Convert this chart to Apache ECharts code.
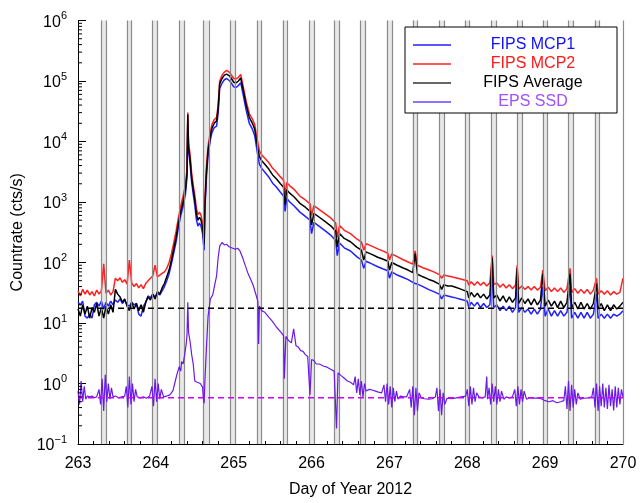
<!DOCTYPE html>
<html><head><meta charset="utf-8">
<script src="https://cdn.jsdelivr.net/npm/echarts@6/dist/echarts.min.js"></script>
<style>html,body{margin:0;padding:0;background:#fff}#c{width:641px;height:503px}</style>
</head><body><div id="c"></div>
<script>
// ---- data ----
const fipsDays = [
263.00,263.03,263.06,263.09,263.12,263.15,263.18,263.21,263.24,263.27,
263.30,263.33,263.36,263.39,263.42,263.45,263.48,263.51,263.54,263.57,
263.60,263.63,263.66,263.69,263.72,263.75,263.78,263.81,263.84,263.87,
263.90,263.93,263.96,263.99,264.02,264.05,264.08,264.11,264.14,264.17,
264.20,264.23,264.26,264.29,264.32,264.35,264.38,264.40,264.41,264.42,
264.44,264.46,264.48,264.50,264.52,264.54,264.56,264.58,264.60,264.62,
264.63,264.65,264.67,264.70,264.72,264.75,264.78,264.80,264.82,264.85,
264.88,264.91,264.93,264.95,264.98,265.00,265.03,265.06,265.09,265.11,
265.13,265.16,265.20,265.24,265.27,265.30,265.33,265.36,265.40,265.45,
265.50,265.55,265.60,265.64,265.66,265.68,265.72,265.78,265.85,265.92,
265.98,266.00,266.03,266.10,266.18,266.25,266.31,266.33,266.36,266.42,
266.50,266.58,266.64,266.67,266.70,266.78,266.85,266.92,266.98,267.00,
267.03,267.10,267.17,267.24,267.30,267.33,267.36,267.43,267.50,267.57,
267.64,267.67,267.70,267.75,267.80,267.85,267.90,267.95,268.00,268.02,
268.05,268.09,268.13,268.17,268.21,268.25,268.29,268.32,268.34,268.38,
268.42,268.46,268.50,268.54,268.58,268.62,268.64,268.66,268.70,268.74,
268.78,268.82,268.86,268.90,268.94,268.97,269.00,269.04,269.08,269.12,
269.16,269.20,269.24,269.28,269.32,269.34,269.38,269.42,269.46,269.50,
269.54,269.58,269.62,269.66,269.68,269.72,269.76,269.80,269.84,269.88,
269.92,269.96,270.00];

const fipsAvg = [
17,13,20,14,19,12,18,15,21,13,
18,12,19,14,20,15,36,30,27,22,
25,19,16,22,17,21,16,20,15,22,
27,24,30,25,33,30,38,45,58,75,
110,170,260,450,700,1000,1600,3000,28000,8000,
5000,2500,1600,1100,650,500,560,500,380,200,
900,3200,7000,12500,16500,20000,22000,35000,90000,110000,
125000,130000,140000,120000,105000,95000,93000,100000,112000,118000,
63000,40000,25000,20000,16000,9000,5600,4800,4200,3500,
2800,2400,2000,1750,900,1600,1400,1200,950,820,
700,420,650,560,470,400,330,180,300,250,
220,180,160,110,150,135,122,113,105,75,
100,90,82,75,68,140,64,58,53,49,
44,36,43,41,41,39,37,35,33,26,
32,27,31,26,30,25,29,120,26,29,
23,28,22,27,22,26,80,21,26,21,
25,20,25,20,24,65,19,24,19,23,
18,23,18,22,65,18,22,17,22,17,
21,17,21,45,17,21,16,20,16,20,
17,19,22];

const mcp2 = [
34,28,36,30,35,29,33,28,35,30,
34,95,31,35,29,33,55,50,56,47,
52,44,110,46,40,45,38,43,37,45,
50,55,60,90,58,62,66,70,80,100,
140,210,330,550,850,1250,1900,3500,30000,9500,
6000,3000,1900,1300,800,620,680,600,460,250,
1100,3800,8200,14500,19000,23000,25000,40000,100000,125000,
140000,150000,155000,138000,120000,110000,108000,115000,128000,135000,
72000,46000,29000,23500,19000,11000,7000,6000,5300,4500,
3600,3100,2600,2300,1300,2100,1850,1600,1250,1080,
930,600,870,750,630,540,450,260,410,340,
300,245,220,160,205,185,168,154,142,110,
138,125,112,102,94,155,90,82,76,70,
63,55,62,60,58,56,54,52,50,42,
48,42,48,42,47,41,46,130,43,46,
39,44,38,43,37,42,90,36,41,36,
40,35,40,35,39,75,34,39,33,38,
33,38,32,37,80,32,37,31,36,31,
36,30,35,55,30,34,30,34,29,33,
30,32,55];

const mcp1 = [
22,20,23,13,12,14,12,20,22,19,
23,17,22,19,23,20,24,22,25,21,
24,20,19,22,20,21,14,13,19,22,
28,26,30,27,31,29,34,40,50,65,
95,145,220,380,600,850,1350,2600,22000,7000,
4200,2100,1350,900,520,400,450,400,300,160,
750,2700,5800,10500,14000,17000,18000,29000,75000,92000,
105000,110000,118000,100000,88000,80000,78000,84000,94000,98000,
52000,33000,20000,16000,12500,7000,4200,3600,3100,2600,
2050,1750,1450,1250,700,1150,1000,850,680,580,
500,300,460,395,330,280,230,130,210,175,
155,125,110,80,105,94,85,78,73,55,
70,62,57,52,47,45,44,40,36,33,
30,25,29,28,27,26,25,24,23,18,
22,19,22,18,21,18,20,60,18,20,
16,19,16,19,15,18,45,15,18,15,
17,14,17,14,17,40,13,17,13,16,
13,16,13,15,40,12,15,12,15,12,
15,12,14,30,12,14,12,14,12,14,
13,14,16];

const epsSsd = [
[263.00,0.75],[263.02,0.45],[263.04,1.1],[263.06,0.5],[263.08,0.9],[263.10,0.55],[263.12,0.62],[263.15,0.6],[263.18,0.62],[263.21,0.58],
[263.24,0.6],[263.27,0.8],[263.29,0.45],[263.31,1.2],[263.33,0.35],[263.35,1.4],[263.37,0.5],[263.39,1.0],[263.41,0.55],[263.43,0.85],
[263.45,0.6],[263.48,0.62],[263.52,0.58],[263.56,0.6],[263.60,0.62],[263.62,0.9],[263.64,0.4],[263.66,1.3],[263.68,0.45],[263.70,1.0],
[263.72,0.5],[263.74,0.8],[263.76,0.6],[263.80,0.58],[263.84,0.6],[263.88,0.57],[263.92,0.62],[263.95,0.9],[263.97,0.42],[263.99,1.2],
[264.01,0.5],[264.03,1.0],[264.05,0.55],[264.07,0.8],[264.10,0.6],[264.14,0.62],[264.18,0.65],[264.22,0.76],[264.25,1.1],[264.27,1.4],
[264.30,1.9],[264.32,1.6],[264.33,2.3],[264.35,2.1],[264.37,3.0],[264.39,4.5],[264.40,6.3],[264.41,22],[264.42,7],[264.44,4.9],
[264.46,3.0],[264.48,2.1],[264.50,1.1],[264.53,1.05],[264.57,1.0],[264.60,0.87],[264.61,0.56],[264.62,0.47],[264.63,1.1],[264.65,4],
[264.66,7],[264.67,12.6],[264.70,25],[264.73,29],[264.76,45],[264.78,60],[264.80,120],[264.82,186],[264.85,214],[264.88,195],
[264.91,200],[264.94,182],[264.98,174],[265.02,166],[265.05,172],[265.08,155],[265.12,115],[265.15,88],[265.18,68],[265.22,52],
[265.25,42],[265.28,31],[265.31,23],[265.32,4.5],[265.33,19],[265.36,16],[265.40,15],[265.45,12.5],[265.50,10.5],[265.55,8.5],
[265.60,7.2],[265.64,6.2],[265.65,1.2],[265.67,6.0],[265.70,5.2],[265.72,5.6],[265.74,4.7],[265.77,8],[265.80,4.2],[265.83,4.0],
[265.86,3.5],[265.89,3.4],[265.92,3.0],[265.95,2.8],[265.98,0.65],[266.00,2.5],[266.03,2.4],[266.06,2.1],[266.10,2.1],[266.15,1.95],
[266.20,1.86],[266.25,1.7],[266.29,1.6],[266.32,0.18],[266.34,1.5],[266.38,1.35],[266.42,1.22],[266.46,1.1],[266.50,1.05],[266.54,0.95],
[266.56,1.3],[266.58,0.7],[266.60,1.2],[266.62,0.65],[266.64,1.1],[266.66,0.6],[266.68,1.0],[266.70,0.75],[266.74,0.8],[266.78,0.78],
[266.82,0.75],[266.86,0.72],[266.90,0.7],[266.93,0.95],[266.95,0.5],[266.97,1.0],[266.99,0.45],[267.01,0.9],[267.03,0.4],[267.05,0.85],
[267.07,0.5],[267.09,0.75],[267.11,0.55],[267.14,0.62],[267.18,0.6],[267.22,0.6],[267.26,0.8],[267.28,0.4],[267.30,0.9],[267.32,0.3],
[267.34,0.85],[267.36,0.35],[267.38,0.7],[267.41,0.58],[267.45,0.56],[267.50,0.55],[267.55,0.56],[267.59,0.6],[267.61,0.85],[267.63,0.35],
[267.65,0.8],[267.67,0.3],[267.69,0.7],[267.71,0.45],[267.74,0.57],[267.80,0.56],[267.86,0.58],[267.92,0.6],[267.98,0.62],[268.00,0.8],
[268.02,0.42],[268.04,0.9],[268.06,0.45],[268.08,0.85],[268.10,0.5],[268.12,0.7],[268.15,0.6],[268.19,0.58],[268.23,0.6],[268.25,1.3],
[268.26,0.55],[268.28,0.85],[268.30,0.45],[268.32,1.0],[268.34,0.5],[268.36,0.9],[268.38,0.45],[268.40,0.8],[268.42,0.5],[268.44,0.75],
[268.47,0.55],[268.50,0.6],[268.54,0.58],[268.58,0.6],[268.61,0.8],[268.63,0.42],[268.65,0.9],[268.67,0.45],[268.69,0.8],[268.71,0.5],
[268.73,0.75],[268.76,0.55],[268.80,0.58],[268.85,0.57],[268.90,0.58],[268.95,0.56],[269.00,0.52],[269.05,0.5],[269.10,0.52],[269.15,0.48],
[269.20,0.5],[269.24,0.52],[269.26,0.9],[269.28,0.38],[269.30,1.1],[269.32,0.35],[269.34,0.95],[269.36,0.4],[269.38,0.8],[269.40,0.45],
[269.42,0.7],[269.45,0.55],[269.50,0.57],[269.55,0.58],[269.60,0.6],[269.62,0.85],[269.64,0.4],[269.66,1.0],[269.68,0.35],[269.70,0.9],
[269.72,0.42],[269.74,1.0],[269.76,0.4],[269.78,0.85],[269.80,0.38],[269.82,0.95],[269.84,0.42],[269.86,0.8],[269.88,0.36],[269.90,0.9],
[269.92,0.4],[269.94,0.85],[269.96,0.45],[269.98,0.8],[270.00,0.6]];

const fipsBackground = 17.5;
const epsBackground = 0.58;
const bandCenters = [263.33,263.66,263.99,264.33,264.645,264.99,265.33,265.66,266.0,266.325,
                     266.66,267.0,267.33,267.67,268.0,268.34,268.67,269.0,269.33,269.67];
const bandHalfWidth = 0.033;
const seriesNames = ['FIPS MCP1','FIPS MCP2','FIPS Average','EPS SSD'];
const xRange = [263, 270];
const yRange = [0.1, 1e6];

// ---- chart ----
const FONT = '"Liberation Sans", Arial, Helvetica, sans-serif';
const zip = vals => fipsDays.map((d, i) => [d, vals[i]]);
const minorLogTicks = [];
for (let e = -1; e < 6; e++) for (let m = 2; m <= 9; m++) minorLogTicks.push([xRange[0], m * Math.pow(10, e)]);

function logLabel(v) {
  const e = Math.round(Math.log10(v));
  return '{b|10}{s|' + (e < 0 ? '\u2212' + (-e) : e) + '}';
}

const chart = echarts.init(document.getElementById('c'), null, {renderer: 'canvas'});
const lineBase = {type: 'line', showSymbol: false, symbol: 'none', animation: false, silent: true};

chart.setOption({
  animation: false,
  textStyle: {fontFamily: FONT},
  grid: {left: 78, right: 18, top: 20.5, bottom: 52, containLabel: false},
  legend: {
    z: 50, zlevel: 0,
    orient: 'vertical', left: 405, top: 27,
    padding: [10, 7, 3, 8], itemGap: 3, itemWidth: 38, itemHeight: 1.5, icon: 'rect',
    backgroundColor: '#fff', borderColor: '#000', borderWidth: 1,
    selectedMode: false,
    formatter: name => '{t|' + name + '}',
    textStyle: {fontFamily: FONT, fontSize: 16,
      rich: {t: {width: 154, align: 'center', fontSize: 16, fontFamily: FONT, lineHeight: 16}}},
    data: [
      {name: seriesNames[0], textStyle: {color: '#1010ff'}},
      {name: seriesNames[1], textStyle: {color: '#ff1a1a'}},
      {name: seriesNames[2], textStyle: {color: '#000'}},
      {name: seriesNames[3], textStyle: {color: '#a050ff'}}
    ]
  },
  xAxis: {
    type: 'value', min: xRange[0], max: xRange[1], interval: 1,
    name: 'Day of Year 2012', nameLocation: 'middle', nameGap: 38,
    nameTextStyle: {fontSize: 16, color: '#000', fontFamily: FONT},
    axisLine: {lineStyle: {color: '#000', width: 1}},
    axisTick: {inside: true, length: 6, lineStyle: {color: '#000'}},
    minorTick: {show: true, splitNumber: 5, length: 3, lineStyle: {color: '#000'}},
    axisLabel: {fontSize: 16, color: '#000', margin: 12, fontFamily: FONT},
    splitLine: {show: false}
  },
  yAxis: {
    type: 'log', logBase: 10, min: yRange[0], max: yRange[1],
    name: 'Countrate (cts/s)', nameLocation: 'middle', nameGap: 34,
    nameTextStyle: {fontSize: 16, color: '#000', fontFamily: FONT},
    axisLine: {show: true, lineStyle: {color: '#000', width: 1}},
    axisTick: {inside: true, length: 8, lineStyle: {color: '#000'}},
    minorTick: {show: false},
    splitLine: {show: false},
    axisLabel: {
      margin: 11, formatter: logLabel,
      rich: {
        b: {fontSize: 16, color: '#000', fontFamily: FONT, verticalAlign: 'bottom'},
        s: {fontSize: 11, color: '#000', fontFamily: FONT, verticalAlign: 'bottom', padding: [0, 0, 9, 0]}
      }
    }
  },
  series: [
    {
      ...lineBase, name: '_bands', data: [], z: 1,
      markArea: {silent: true, itemStyle: {color: '#e8e8e8', borderWidth: 0},
        data: bandCenters.map(c => [{xAxis: c - bandHalfWidth}, {xAxis: c + bandHalfWidth}])},
      markLine: {silent: true, symbol: 'none', label: {show: false}, animation: false,
        lineStyle: {color: '#8a8a8a', width: 1.2, type: 'solid'},
        data: bandCenters.flatMap(c => [{xAxis: c - bandHalfWidth}, {xAxis: c + bandHalfWidth}]).concat([{xAxis: xRange[1]}])}
    },
    {...lineBase, name: seriesNames[0], data: zip(mcp1), z: 2, itemStyle: {color: '#2020ff'}, lineStyle: {color: '#2020ff', width: 1.5}},
    {...lineBase, name: seriesNames[1], data: zip(mcp2), z: 3, itemStyle: {color: '#ff2020'}, lineStyle: {color: '#ff2020', width: 1.5}},
    {...lineBase, name: seriesNames[2], data: zip(fipsAvg), z: 4, itemStyle: {color: '#333'}, lineStyle: {color: '#000', width: 1.5}},
    {...lineBase, name: seriesNames[3], data: epsSsd, z: 5, itemStyle: {color: '#7040ff'}, lineStyle: {color: '#6a1ae6', width: 1.2}},
    {...lineBase, name: '_fipsBg', data: [[xRange[0], fipsBackground], [xRange[1], fipsBackground]], z: 6,
      lineStyle: {color: '#000', width: 1.5, type: [6, 4]}},
    {...lineBase, name: '_epsBg', data: [[xRange[0], epsBackground], [xRange[1], epsBackground]], z: 6,
      lineStyle: {color: '#cc00ff', width: 1.5, type: [6, 4]}},
    {
      type: 'custom', name: '_minorTicks', silent: true, z: 7, animation: false,
      data: minorLogTicks,
      renderItem: (params, api) => {
        const p = api.coord([api.value(0), api.value(1)]);
        return {type: 'line', shape: {x1: p[0], y1: p[1], x2: p[0] + 4, y2: p[1]},
                style: {stroke: '#000', lineWidth: 1}};
      }
    }
  ]
});
</script>
</body></html>
